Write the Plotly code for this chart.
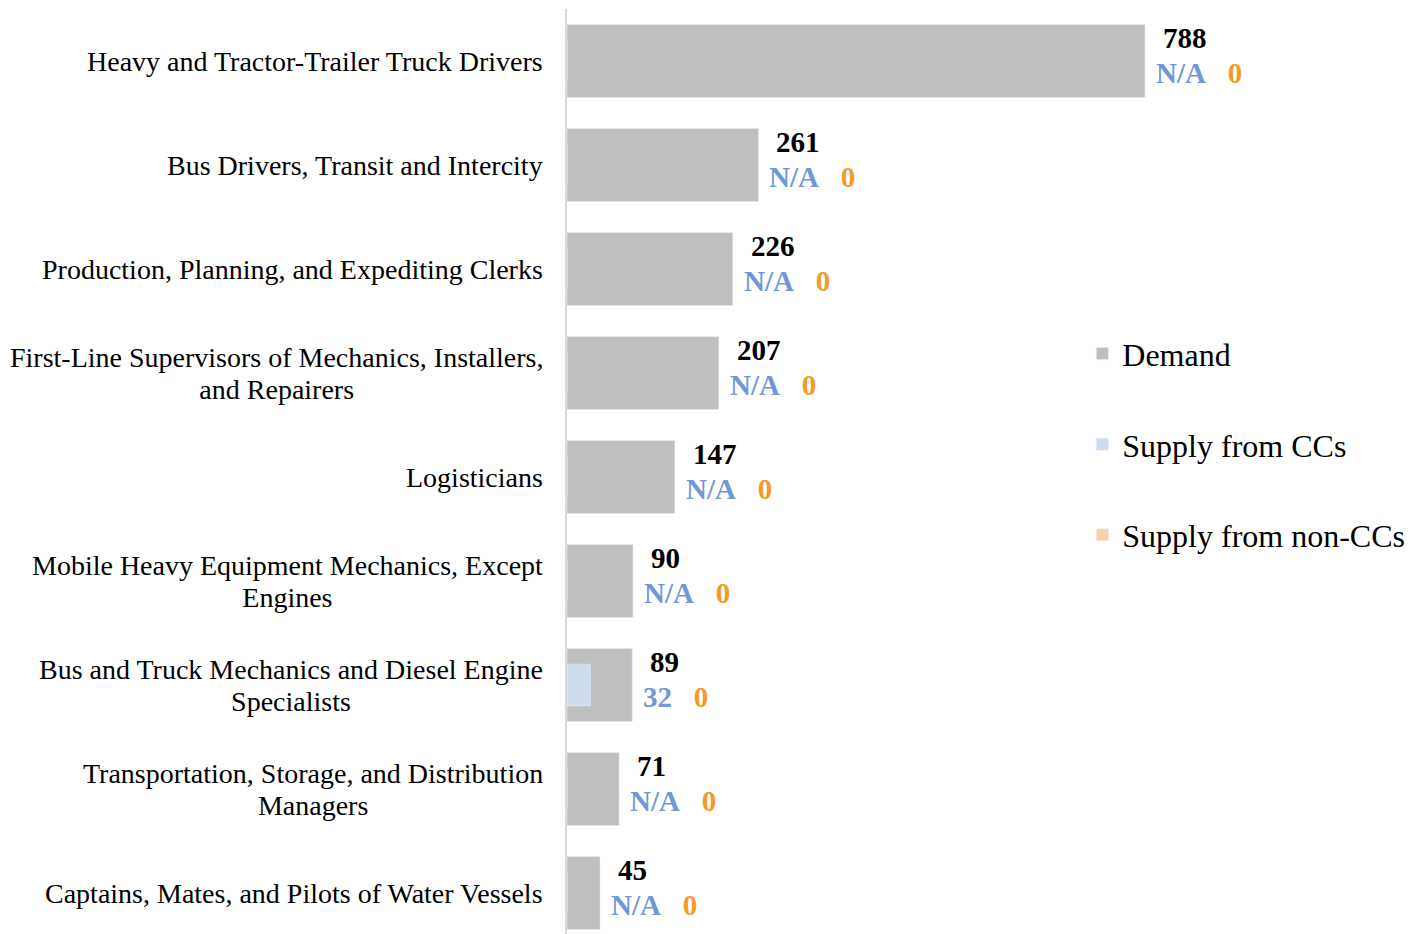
import plotly.graph_objects as go

categories = [
    "Heavy and Tractor-Trailer Truck Drivers",
    "Bus Drivers, Transit and Intercity",
    "Production, Planning, and Expediting Clerks",
    "First-Line Supervisors of Mechanics, Installers,<br>and Repairers",
    "Logisticians",
    "Mobile Heavy Equipment Mechanics, Except<br>Engines",
    "Bus and Truck Mechanics and Diesel Engine<br>Specialists",
    "Transportation, Storage, and Distribution<br>Managers",
    "Captains, Mates, and Pilots of Water Vessels",
]
demand = [788, 261, 226, 207, 147, 90, 89, 71, 45]
supply_cc = [None, None, None, None, None, None, 32, None, None]
supply_cc_labels = ["N/A", "N/A", "N/A", "N/A", "N/A", "N/A", "32", "N/A", "N/A"]
supply_noncc = [0, 0, 0, 0, 0, 0, 0, 0, 0]
supply_noncc_labels = ["0", "0", "0", "0", "0", "0", "0", "0", "0"]

GRAY = "#BFBFBF"
LBLUE = "#CFDCEF"
LORANGE = "#F6D5A8"
BLUE_TXT = "#7098D8"
ORANGE_TXT = "#F39A2A"
FONT = "Liberation Serif, Times New Roman, serif"

fig = go.Figure()
fig.add_trace(go.Bar(y=categories, x=demand, orientation="h", name="Demand",
                     marker_color=GRAY, width=0.7, legendgroup="a"))
fig.add_trace(go.Bar(y=categories, x=supply_cc, orientation="h", name="Supply from CCs",
                     marker_color=LBLUE, width=0.4, legendgroup="b"))
fig.add_trace(go.Bar(y=categories, x=supply_noncc, orientation="h", name="Supply from non-CCs",
                     marker_color=LORANGE, width=0.4, legendgroup="c"))

ann = []
for i, cat in enumerate(categories):
    lines = cat.split("<br>")
    txt = "<br>".join("<span style='font-size:28px'>%s</span>" % l for l in lines)
    ann.append(dict(x=0, xref="paper", y=cat, yref="y", text=txt, showarrow=False,
                    xanchor="right", align="center", xshift=-22,
                    font=dict(family=FONT, size=24.6, color="black")))
    ann.append(dict(x=demand[i], y=cat, text="<b>%d</b>" % demand[i], showarrow=False,
                    xanchor="left", xshift=16, yshift=23,
                    font=dict(family=FONT, size=29, color="black")))
    sub = ("<b><span style='color:%s'>%s</span>&nbsp;&nbsp;&nbsp;"
           "<span style='color:%s'>%s</span></b>") % (
        BLUE_TXT, supply_cc_labels[i], ORANGE_TXT, supply_noncc_labels[i])
    ann.append(dict(x=demand[i], y=cat, text=sub, showarrow=False,
                    xanchor="left", xshift=9, yshift=-12,
                    font=dict(family=FONT, size=29, color=BLUE_TXT)))

fig.update_layout(
    width=1410, height=926,
    margin=dict(l=559, r=118, t=1, b=0),
    plot_bgcolor="white", paper_bgcolor="white",
    barmode="overlay",
    showlegend=True,
    legend=dict(x=0.703, y=0.657, xanchor="left", yanchor="top",
                font=dict(family=FONT, size=32, color="black"),
                tracegroupgap=46, itemwidth=30, bgcolor="rgba(0,0,0,0)"),
    annotations=ann,
    font=dict(family=FONT),
)
fig.update_xaxes(range=[0, 999.3], showticklabels=False, showgrid=False, zeroline=False,
                 showline=False)
fig.update_yaxes(categoryorder="array", categoryarray=categories,
                 range=[8.394, -0.5], showticklabels=False, showgrid=False, zeroline=False,
                 showline=True, linecolor="#D9D9D9", linewidth=2)

fig.write_html("out.html")
